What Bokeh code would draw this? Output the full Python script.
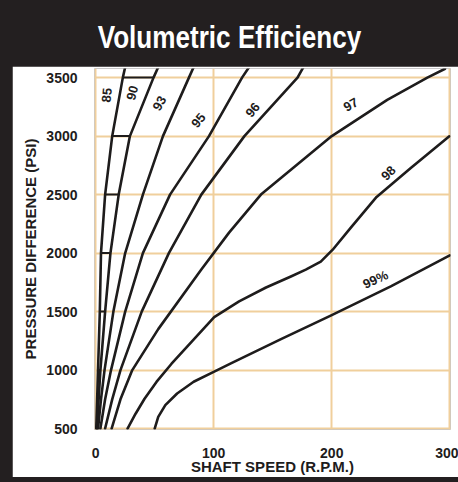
from bokeh.plotting import figure
from bokeh.models import Range1d, Div, FixedTicker, ColumnDataSource
from bokeh.layouts import column
from bokeh.embed import file_html
from bokeh.resources import INLINE
from bokeh.core.properties import value
import numpy as np

TITLE = "Volumetric Efficiency"
X_LABEL = "SHAFT SPEED (R.P.M.)"
Y_LABEL = "PRESSURE DIFFERENCE (PSI)"
X_TICKS = [0, 100, 200, 300]
Y_TICKS = [500, 1000, 1500, 2000, 2500, 3000, 3500]

# efficiency curves: pressure (psi) vs shaft speed (rpm)
psi_85 = [500, 1000, 1500, 2000, 2500, 3000, 3500, 3590]
rpm_85 = [0.5, 2, 3.5, 4.5, 8, 14, 23, 25]
psi_90 = [500, 1000, 1500, 2000, 2500, 3000, 3500, 3590]
rpm_90 = [1, 4, 8, 12.5, 19.5, 29, 49, 53]
psi_93 = [500, 750, 1000, 1500, 2000, 2500, 3000, 3500, 3590]
rpm_93 = [2, 4.5, 7.5, 15, 25, 40, 57, 79, 83]
psi_95 = [500, 750, 1000, 1500, 2000, 2500, 3000, 3500, 3590]
rpm_95 = [4, 8, 13, 25, 40, 63, 96, 124, 130]
psi_96 = [500, 750, 1000, 1500, 2000, 2500, 3000, 3500, 3590]
rpm_96 = [8, 14, 21, 39, 62, 89.5, 126, 171, 176]
psi_97 = [500, 750, 1000, 1350, 1860, 2175, 2500, 3000, 3310, 3500, 3576]
rpm_97 = [13.5, 21, 31, 53, 89.5, 113, 140, 200, 247, 281, 296]
psi_98 = [500, 627, 755, 899, 1052, 1239, 1452, 1588, 1706, 1800, 1859, 1927, 2029,
          2216, 2480, 2726, 2998]
rpm_98 = [27, 33.8, 41.4, 51.5, 64.1, 81, 100.4, 121.5, 144.3, 165.4, 178, 190.7, 200.8,
          216, 238, 266.7, 299.6]
psi_99 = [500, 600, 700, 800, 900, 985, 1060, 1265, 1470, 1715, 1980]
rpm_99 = [50, 53, 59, 69, 83, 100, 115, 157, 200, 250, 300]

curves = [(rpm_85, psi_85), (rpm_90, psi_90), (rpm_93, psi_93), (rpm_95, psi_95),
          (rpm_96, psi_96), (rpm_97, psi_97), (rpm_98, psi_98), (rpm_99, psi_99)]

label_text = ["85", "90", "93", "95", "96", "97", "98", "99%"]
label_rpm = [9.3, 31, 54, 87, 133, 216, 248, 237]
label_psi = [3350, 3370, 3280, 3135, 3225, 3270, 2685, 1775]
label_angle = [85, 75, 60, 50, 50, 30, 45, 25]

INK = "#1e1c1c"
DARK = "#231f20"
GRID = "#f0cf9c"
FONT = "Liberation Sans"

p = figure(width=446, height=411, x_range=Range1d(-1, 300.6), y_range=Range1d(492, 3578),
           output_backend="svg", toolbar_location=None,
           min_border_left=82, min_border_right=8, min_border_top=2, min_border_bottom=47)
p.margin = (0, 0, 5, 12)
p.outline_line_color = None
p.background_fill_color = "white"
p.border_fill_color = "white"

p.xgrid.ticker = FixedTicker(ticks=X_TICKS)
p.ygrid.ticker = FixedTicker(ticks=Y_TICKS)
for g in (p.xgrid, p.ygrid):
    g.grid_line_color = GRID
    g.grid_line_width = 2

p.xaxis.ticker = FixedTicker(ticks=X_TICKS)
p.yaxis.ticker = FixedTicker(ticks=Y_TICKS)
for ax in (p.xaxis, p.yaxis):
    ax.axis_line_color = None
    ax.major_tick_line_color = None
    ax.minor_tick_line_color = None
    ax.major_label_text_font = FONT
    ax.major_label_text_font_style = "bold"
    ax.major_label_text_font_size = "14px"
    ax.major_label_text_color = INK
    ax.axis_label_text_font = FONT
    ax.axis_label_text_font_style = "bold"
    ax.axis_label_text_font_size = "15px"
    ax.axis_label_text_color = INK
p.xaxis.axis_label = X_LABEL
p.yaxis.axis_label = Y_LABEL
p.xaxis.major_label_standoff = 12
p.yaxis.major_label_standoff = 11
p.xaxis.axis_label_standoff = -3
p.yaxis.axis_label_standoff = 4

# ladder between 85 and 90 at grid levels
lad_y = [y for y in Y_TICKS if y >= 1000]
lad_x0 = [float(np.interp(y, psi_85, rpm_85)) for y in lad_y]
lad_x1 = [float(np.interp(y, psi_90, rpm_90)) for y in lad_y]
p.segment(x0=lad_x0, y0=lad_y, x1=lad_x1, y1=lad_y, line_color=INK, line_width=2)

for xs, ys in curves:
    p.line(xs, ys, line_color=INK, line_width=2.6, line_join="round", line_cap="round")

src = ColumnDataSource(dict(x=label_rpm, y=label_psi, t=label_text,
                            a=[np.deg2rad(a) for a in label_angle]))
p.text(x="x", y="y", text="t", angle="a", source=src, text_font=value(FONT),
       text_font_style="bold", text_font_size="13px", text_color=INK,
       text_align="center", text_baseline="middle",
       background_fill_color="white")

title_html = ('<span style="display:inline-block; transform:scale(0.87,1.05); '
              'transform-origin:center;">' + TITLE + '</span>')
title = Div(text=title_html, width=458, height=66, margin=(0, 0, 0, 0),
            styles={"background-color": DARK, "color": "white",
                    "font-family": "'Liberation Sans', Arial, sans-serif",
                    "font-weight": "bold", "font-size": "30px", "text-align": "center",
                    "line-height": "74px", "height": "66px", "overflow": "hidden",
                    "width": "458px"})

layout = column(title, p, spacing=0, styles={"background-color": DARK})

open("out.html", "w").write(file_html(layout, INLINE))
